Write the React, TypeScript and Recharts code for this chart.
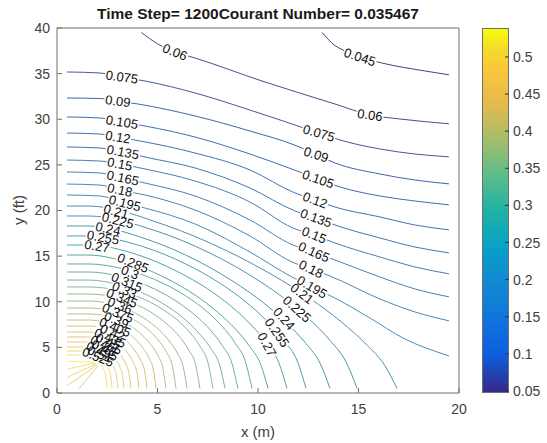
import React from "react";
import { ComposedChart, Line, Scatter, XAxis, YAxis } from "recharts";

const FONT = '"Liberation Sans", Arial, Helvetica, sans-serif';

const xTicks = [0, 5, 10, 15, 20];
const yTicks = [0, 5, 10, 15, 20, 25, 30, 35, 40];
const barTicks = [0.05, 0.1, 0.15, 0.2, 0.25, 0.3, 0.35, 0.4, 0.45, 0.5];
const barMin = 0.0473;
const barMax = 0.539;

// contour paths as [x, y]
const c045 = [[13.2, 39.5], [13.73, 38.25], [14.33, 37.48], [15.07, 36.82], [16.17, 36.16], [18.31, 35.29], [19.5, 34.87]];
const c060 = [[4.2, 39.5], [5.02, 38.25], [5.87, 37.37], [6.87, 36.71], [10.2, 34.19], [13.83, 31.67], [15.57, 30.47], [17.06, 30.03], [19.5, 29.5]];
const c075 = [[0.5, 35.18], [2.14, 35.07], [3.23, 34.63], [4.38, 34.19], [6.87, 32.88], [9.6, 31.01], [11.99, 29.26], [13.03, 28.49], [14.08, 27.73], [16.07, 26.74], [17.81, 26.19], [19.5, 25.88]];
const c090 = [[0.5, 32.33], [2.14, 32.27], [3.03, 31.99], [4.03, 31.67], [6.87, 30.36], [9.6, 28.71], [11.94, 27.07], [12.89, 26.14], [13.83, 25.21], [16.07, 24.0], [17.81, 23.34], [19.5, 22.92]];
const c105 = [[0.5, 30.25], [2.14, 30.14], [3.23, 29.7], [4.38, 29.26], [6.87, 28.05], [9.6, 26.19], [11.94, 24.33], [12.99, 23.45], [14.08, 22.58], [16.07, 21.59], [17.81, 21.04], [19.5, 20.62]];
const c120 = [[0.5, 28.49], [2.14, 28.38], [3.03, 28.05], [4.13, 27.62], [6.87, 26.3], [9.6, 24.44], [11.84, 21.92], [12.84, 21.15], [13.83, 20.38], [16.07, 19.29], [17.81, 18.41], [19.5, 17.88]];
const c135 = [[0.5, 26.96], [2.14, 26.85], [3.28, 26.41], [4.38, 25.86], [6.87, 24.66], [9.6, 22.47], [11.84, 19.95], [12.89, 19.18], [13.98, 18.3], [16.07, 16.99], [17.81, 16.0], [19.5, 15.36]];
const c150 = [[0.5, 25.53], [2.14, 25.42], [3.13, 25.1], [4.38, 24.55], [6.87, 23.23], [9.6, 20.93], [11.74, 18.08], [12.79, 17.32], [13.83, 16.44], [16.07, 14.9], [17.81, 13.81], [19.5, 13.06]];
const c165 = [[0.5, 24.22], [2.14, 24.11], [3.28, 23.56], [4.38, 23.01], [6.87, 21.59], [9.6, 18.96], [11.74, 16.22], [12.79, 15.45], [13.83, 14.58], [16.07, 12.71], [17.81, 11.4], [19.5, 10.54]];
const c180 = [[0.5, 22.9], [2.14, 22.79], [3.13, 22.25], [4.38, 21.7], [6.87, 20.05], [9.6, 17.21], [11.69, 14.36], [12.64, 13.59], [13.58, 12.82], [16.07, 10.3], [17.81, 8.88], [19.5, 7.91]];
const c195 = [[0.5, 21.7], [2.14, 21.59], [3.38, 20.82], [4.38, 20.27], [6.87, 18.52], [9.6, 15.45], [11.69, 12.71], [12.69, 11.62], [13.73, 10.52], [15.57, 8.22], [17.21, 6.03], [19.5, 4.07]];
const c210 = [[0.5, 20.49], [1.54, 20.49], [5.39, 18.39], [8.46, 15.57], [10.77, 12.87], [12.61, 10.32], [14.15, 7.78], [15.38, 5.34], [16.3, 3.04], [16.92, 0.5]];
const c225 = [[0.5, 19.4], [1.54, 19.4], [4.89, 17.79], [7.57, 15.37], [9.57, 12.96], [11.18, 10.57], [12.52, 8.15], [13.59, 5.74], [14.39, 3.37], [14.93, 0.5]];
const c240 = [[0.5, 18.3], [1.54, 18.3], [4.55, 16.79], [6.96, 14.51], [8.76, 12.23], [10.21, 9.99], [11.41, 7.71], [12.38, 5.43], [13.1, 3.21], [13.58, 0.5]];
const c255 = [[0.5, 17.21], [1.54, 17.21], [4.25, 16.06], [6.42, 14.12], [8.05, 12.11], [9.35, 10.06], [10.44, 7.9], [11.31, 5.71], [11.96, 3.47], [12.39, 0.5]];
const c270 = [[0.5, 16.22], [1.54, 16.22], [4.02, 15.14], [5.99, 13.31], [7.48, 11.43], [8.67, 9.49], [9.66, 7.46], [10.45, 5.4], [11.04, 3.3], [11.44, 0.5]];
const c285 = [[0.5, 15.12], [1.54, 15.12], [3.78, 14.11], [5.57, 12.42], [6.92, 10.66], [7.99, 8.86], [8.89, 6.98], [9.6, 5.06], [10.14, 3.1], [10.5, 0.5]];
const c300 = [[0.5, 14.14], [1.54, 14.14], [3.58, 13.43], [5.21, 12.09], [6.44, 10.59], [7.42, 9.0], [8.23, 7.27], [8.88, 5.42], [9.37, 3.46], [9.7, 0.5]];
const c315 = [[0.5, 13.26], [1.54, 13.26], [3.41, 12.6], [4.9, 11.35], [6.02, 9.94], [6.91, 8.45], [7.66, 6.83], [8.25, 5.11], [8.7, 3.27], [9.0, 0.5]];
const c330 = [[0.5, 12.38], [1.54, 12.38], [3.25, 11.76], [4.61, 10.6], [5.63, 9.29], [6.45, 7.9], [7.13, 6.39], [7.68, 4.79], [8.09, 3.08], [8.36, 0.5]];
const c345 = [[0.5, 11.62], [1.54, 11.62], [3.1, 11.2], [4.34, 10.26], [5.27, 9.15], [6.02, 7.93], [6.64, 6.55], [7.14, 5.03], [7.51, 3.34], [7.76, 0.5]];
const c360 = [[0.5, 10.85], [1.54, 10.85], [2.93, 10.46], [4.05, 9.59], [4.88, 8.55], [5.55, 7.41], [6.11, 6.13], [6.55, 4.71], [6.89, 3.14], [7.11, 0.5]];
const c375 = [[0.5, 10.08], [1.54, 10.08], [2.77, 9.72], [3.76, 8.91], [4.5, 7.95], [5.09, 6.9], [5.58, 5.71], [5.98, 4.4], [6.27, 2.94], [6.47, 0.5]];
const c390 = [[0.5, 9.32], [1.54, 9.32], [2.64, 9.04], [3.51, 8.38], [4.17, 7.56], [4.69, 6.62], [5.13, 5.55], [5.48, 4.35], [5.74, 2.97], [5.92, 0.5]];
const c405 = [[0.5, 8.66], [1.54, 8.66], [2.51, 8.4], [3.29, 7.79], [3.87, 7.03], [4.33, 6.16], [4.72, 5.17], [5.03, 4.06], [5.26, 2.78], [5.42, 0.5]];
const c420 = [[0.5, 8.0], [1.54, 8.0], [2.39, 7.76], [3.07, 7.2], [3.57, 6.5], [3.98, 5.71], [4.32, 4.79], [4.59, 3.77], [4.79, 2.6], [4.93, 0.5]];
const c435 = [[0.5, 7.34], [1.54, 7.34], [2.28, 7.12], [2.86, 6.61], [3.3, 5.97], [3.66, 5.25], [3.95, 4.41], [4.19, 3.48], [4.36, 2.42], [4.48, 0.5]];
const c450 = [[0.5, 6.68], [1.54, 6.68], [2.18, 6.48], [2.68, 6.02], [3.06, 5.44], [3.37, 4.79], [3.62, 4.03], [3.83, 3.19], [3.98, 2.23], [4.08, 0.5]];
const c465 = [[0.5, 6.14], [1.54, 6.14], [2.08, 5.96], [2.5, 5.54], [2.82, 5.01], [3.08, 4.41], [3.29, 3.73], [3.47, 2.96], [3.59, 2.08], [3.68, 0.5]];
const c480 = [[0.5, 5.59], [1.54, 5.59], [1.99, 5.43], [2.35, 5.05], [2.61, 4.57], [2.83, 4.03], [3.01, 3.41], [3.15, 2.72], [3.26, 1.93], [3.33, 0.5]];
const c495 = [[0.5, 5.04], [1.54, 5.04], [1.91, 4.89], [2.21, 4.55], [2.43, 4.13], [2.61, 3.65], [2.76, 3.1], [2.88, 2.48], [2.97, 1.77], [3.03, 0.5]];
const c510 = [[0.5, 4.6], [1.54, 4.6], [1.84, 4.47], [2.08, 4.16], [2.26, 3.78], [2.4, 3.35], [2.52, 2.85], [2.62, 2.29], [2.69, 1.65], [2.74, 0.5]];
const c525 = [[0.5, 4.16], [1.54, 4.16], [1.78, 4.04], [1.97, 3.77], [2.11, 3.43], [2.22, 3.04], [2.32, 2.59], [2.4, 2.1], [2.45, 1.52], [2.49, 0.5]];
// short yellow strokes under the source
const fanA = [[0.5, 3.45], [1.9, 3.4]];
const fanB = [[0.5, 2.6], [1.9, 3.3]];
const fanC = [[0.5, 1.7], [1.95, 3.2]];
const fanD = [[0.5, 0.8], [2.0, 3.1]];
const fanE = [[1.1, 0.5], [2.05, 3.0]];

const contours: [number, number[][]][] = [
  [0.045, c045], [0.06, c060], [0.075, c075], [0.09, c090], [0.105, c105], [0.12, c120],
  [0.135, c135], [0.15, c150], [0.165, c165], [0.18, c180], [0.195, c195], [0.21, c210],
  [0.225, c225], [0.24, c240], [0.255, c255], [0.27, c270], [0.285, c285], [0.3, c300],
  [0.315, c315], [0.33, c330], [0.345, c345], [0.36, c360], [0.375, c375], [0.39, c390],
  [0.405, c405], [0.42, c420], [0.435, c435], [0.45, c450], [0.465, c465], [0.48, c480],
  [0.495, c495], [0.51, c510], [0.525, c525],
  [0.54, fanA], [0.525, fanB], [0.51, fanC], [0.495, fanD], [0.48, fanE],
];

// inline labels: text, x, y, angle
const labels: [string, number, number, number][] = [
  ["0.06", 5.87, 37.37, 22], ["0.045", 15.07, 36.82, 18], ["0.06", 15.57, 30.47, 8],
  ["0.075", 3.23, 34.63, 8], ["0.09", 3.03, 31.99, 7], ["0.105", 3.23, 29.7, 9],
  ["0.12", 3.03, 28.05, 9], ["0.135", 3.28, 26.41, 11], ["0.15", 3.13, 25.1, 11],
  ["0.165", 3.28, 23.56, 12], ["0.18", 3.13, 22.25, 12], ["0.195", 3.38, 20.82, 14],
  ["0.21", 2.94, 19.9, 14], ["0.225", 3.03, 18.93, 14], ["0.24", 2.54, 18.0, 12],
  ["0.255", 2.29, 17.06, 10], ["0.27", 1.99, 16.1, 10],
  ["0.285", 3.78, 14.25, 22], ["0.3", 3.63, 13.21, 22], ["0.315", 3.48, 12.16, 22],
  ["0.33", 3.36, 11.29, 22], ["0.345", 3.23, 10.41, 22], ["0.36", 3.13, 9.59, 22],
  ["0.375", 3.03, 8.77, 22], ["0.39", 2.96, 8.0, 22], ["0.405", 2.89, 7.23, 22],
  ["0.42", 2.76, 6.63, 22], ["0.435", 2.64, 6.03, 22], ["0.45", 2.54, 5.64, 22],
  ["0.465", 2.44, 5.26, 22], ["0.48", 2.34, 4.93, 22], ["0.495", 2.24, 4.6, 22],
  ["0.51", 2.14, 4.27, 22], ["0.525", 2.04, 3.95, 22],
  ["0.075", 13.03, 28.49, 16], ["0.09", 12.89, 26.14, 18], ["0.105", 12.99, 23.45, 19],
  ["0.12", 12.84, 21.15, 20], ["0.135", 12.89, 19.18, 20], ["0.15", 12.79, 17.32, 22],
  ["0.165", 12.79, 15.45, 24], ["0.18", 12.64, 13.59, 26], ["0.195", 12.69, 11.62, 30],
  ["0.21", 12.19, 10.9, 37], ["0.225", 11.94, 9.2, 42], ["0.24", 11.3, 8.15, 48],
  ["0.255", 10.95, 6.62, 55], ["0.27", 10.45, 5.3, 62],
];

const parulaStops: [number, string][] = [
  [0, "#352a87"], [0.1, "#0d5ddc"], [0.2, "#1174dc"], [0.3, "#1189d3"], [0.4, "#08a1c8"],
  [0.5, "#20b2a5"], [0.6, "#5fbc8a"], [0.7, "#a9bd69"], [0.8, "#e8ba4a"], [0.9, "#fbc83a"],
  [0.95, "#f4dd28"], [1, "#f9fb0e"],
];

function hexRgb(h: string) {
  return [1, 3, 5].map((i) => parseInt(h.slice(i, i + 2), 16));
}

function parulaRgb(v: number) {
  const t = Math.max(0, Math.min(1, (v - barMin) / (barMax - barMin)));
  for (let i = 1; i < parulaStops.length; i++) {
    const [t1, h1] = parulaStops[i];
    if (t <= t1) {
      const [t0, h0] = parulaStops[i - 1];
      const f = (t - t0) / (t1 - t0);
      const a = hexRgb(h0);
      const b = hexRgb(h1);
      return a.map((av, k) => av + (b[k] - av) * f);
    }
  }
  return hexRgb(parulaStops[parulaStops.length - 1][1]);
}

// thin lines in the original look washed out, so pull the colour toward grey
function lineColor(v: number) {
  const c = parulaRgb(v);
  const lum = 0.3 * c[0] + 0.59 * c[1] + 0.11 * c[2];
  const d = c.map((ch) => Math.round(lum + (ch - lum) * 0.6));
  return `rgb(${d[0]},${d[1]},${d[2]})`;
}

const barGradient = `linear-gradient(to top, ${parulaStops
  .map(([o, c]) => `${c} ${(o * 100).toFixed(1)}%`)
  .join(", ")})`;

const labelData = labels.map(([text, x, y, angle]) => ({ x, y, text, angle }));

const labelWidth = (s: string) => (s.length - 1) * 7.2 + 3.6 + 2;

const LabelBg = (p: any) => {
  const { cx, cy, payload } = p;
  const w = labelWidth(payload.text);
  return (
    <rect
      x={-w / 2}
      y={-6}
      width={w}
      height={12}
      fill="#fff"
      transform={`translate(${cx},${cy}) rotate(${payload.angle})`}
    />
  );
};

const LabelText = (p: any) => {
  const { cx, cy, payload } = p;
  return (
    <text
      transform={`translate(${cx},${cy}) rotate(${payload.angle})`}
      textAnchor="middle"
      dy="0.35em"
      fontSize={13}
      fontFamily={FONT}
      fill="#111"
    >
      {payload.text}
    </text>
  );
};

const axisColor = "#6e6e6e";
const tickStyle = { fill: "#404040", fontSize: 14, fontFamily: FONT };

export default function App() {
  return (
    <div
      style={{
        position: "absolute",
        left: 0,
        top: 0,
        width: 547,
        height: 443,
        background: "#fff",
        fontFamily: FONT,
        color: "#1a1a1a",
      }}
    >
      <div
        style={{
          position: "absolute",
          left: 57,
          width: 402,
          top: 6,
          textAlign: "center",
          fontWeight: "bold",
          fontSize: 15.5,
          lineHeight: "16px",
          whiteSpace: "nowrap",
        }}
      >
        Time Step= 1200Courant Number= 0.035467
      </div>
      <div
        style={{
          position: "absolute",
          left: 57,
          width: 402,
          top: 423,
          textAlign: "center",
          fontSize: 15,
          lineHeight: "17px",
          color: "#404040",
        }}
      >
        x (m)
      </div>
      <div
        style={{
          position: "absolute",
          left: 18,
          top: 210,
          transform: "translate(-50%, -50%) rotate(-90deg)",
          fontSize: 15,
          lineHeight: "17px",
          whiteSpace: "nowrap",
          color: "#404040",
        }}
      >
        y (ft)
      </div>

      <div style={{ position: "absolute", left: 0, top: 0 }}>
        <ComposedChart width={470} height={443} margin={{ top: 27, right: 10, bottom: 10, left: 0 }}>
          <XAxis
            type="number"
            dataKey="x"
            domain={[0, 20]}
            ticks={xTicks}
            interval={0}
            allowDataOverflow
            height={40}
            tickSize={-5}
            tickMargin={16}
            stroke={axisColor}
            tick={tickStyle}
          />
          <XAxis
            xAxisId="top"
            orientation="top"
            type="number"
            dataKey="x"
            domain={[0, 20]}
            ticks={xTicks}
            interval={0}
            allowDataOverflow
            height={1}
            tickSize={-5}
            tick={false}
            stroke={axisColor}
          />
          <YAxis
            type="number"
            dataKey="y"
            domain={[0, 40]}
            ticks={yTicks}
            interval={0}
            allowDataOverflow
            width={57}
            tickSize={-5}
            tickMargin={12}
            stroke={axisColor}
            tick={tickStyle}
          />
          <YAxis
            yAxisId="right"
            orientation="right"
            type="number"
            domain={[0, 40]}
            ticks={yTicks}
            interval={0}
            allowDataOverflow
            width={1}
            tickSize={-5}
            tick={false}
            stroke={axisColor}
          />
          {contours.map(([level, pts], i) => (
            <Line
              key={`c${i}`}
              data={pts.map(([x, y]) => ({ x, y }))}
              dataKey="y"
              type="monotone"
              stroke={lineColor(level)}
              strokeWidth={0.9}
              dot={false}
              activeDot={false}
              isAnimationActive={false}
            />
          ))}
          <Scatter data={labelData} dataKey="y" shape={LabelBg} isAnimationActive={false} />
          <Scatter data={labelData} dataKey="y" shape={LabelText} isAnimationActive={false} />
        </ComposedChart>
      </div>

      <div
        style={{
          position: "absolute",
          left: 482,
          top: 28,
          width: 27,
          height: 365,
          background: barGradient,
          boxSizing: "border-box",
          border: `1px solid ${axisColor}`,
        }}
      />
      <div style={{ position: "absolute", left: 482, top: 0 }}>
        <ComposedChart width={65} height={443} margin={{ top: 28, right: 0, bottom: 50, left: 0 }}>
          <XAxis type="number" dataKey="x" domain={[0, 1]} hide />
          <YAxis
            orientation="right"
            type="number"
            domain={[barMin, barMax]}
            ticks={barTicks}
            interval={0}
            allowDataOverflow
            width={38}
            tickSize={-4}
            tickMargin={8}
            axisLine={false}
            stroke="#333"
            tick={tickStyle}
          />
        </ComposedChart>
      </div>
    </div>
  );
}
